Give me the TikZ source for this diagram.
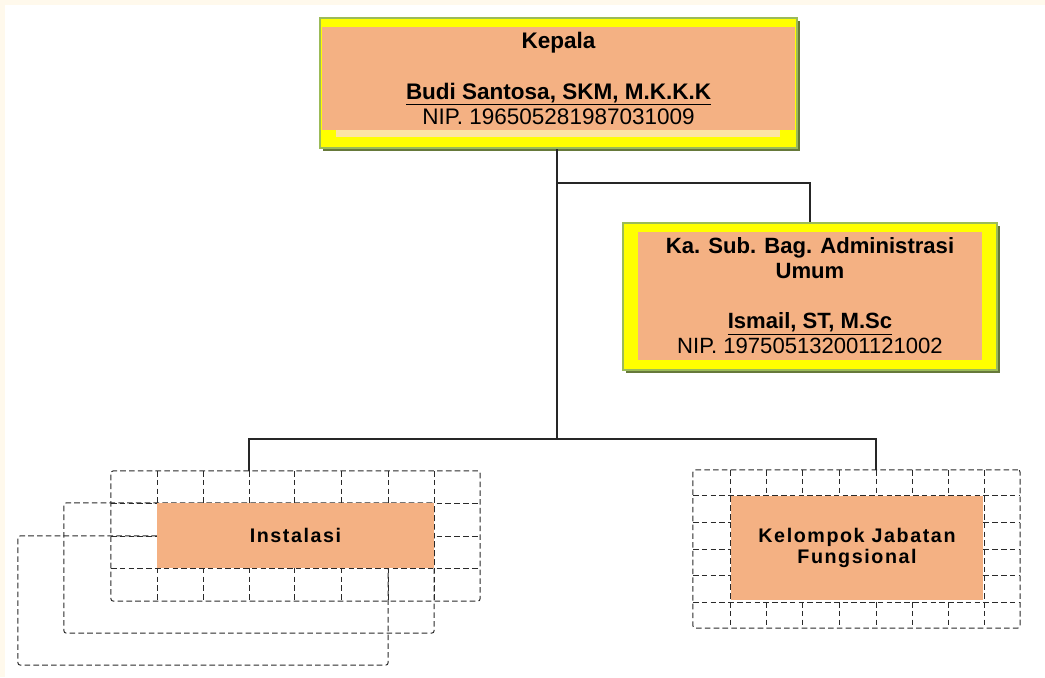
\documentclass[tikz,border=0pt]{standalone}
\usepackage{fontspec}
\setmainfont{Liberation Sans}
\newfontfamily\spacedfont[LetterSpace=8]{Liberation Sans}
\usepackage{xcolor}
\usepackage{tikz}
\usetikzlibrary{shadows}
\definecolor{unitF}{HTML}{F4B183}
\definecolor{frameY}{HTML}{FFFF00}
\definecolor{frameG}{HTML}{9BBB59}
\definecolor{shadeG}{HTML}{66793A}
\definecolor{stripY}{HTML}{FCE4A4}
\definecolor{paper}{HTML}{FFF9EC}
\definecolor{dashK}{HTML}{2A2A2A}

\begin{document}
\begin{tikzpicture}[
  x=0.025cm, y=-0.025cm,
  every node/.style={align=center},
  unitbox/.style={rectangle,draw=frameG,line width=1.5pt,fill=frameY,inner sep=0pt,
                  drop shadow={shadow xshift=0.07cm,shadow yshift=-0.07cm,
                               fill=shadeG,opacity=1}},
  unitfill/.style={rectangle,fill=unitF,inner sep=0pt,
                   font=\fontsize{15.7}{17.8}\selectfont},
  cardbox/.style={rectangle,draw=dashK,line width=0.7pt,rounded corners=1.5pt,
                  dash pattern=on 0.14cm off 0.08cm,inner sep=0pt},
  gridln/.style={draw=dashK,line width=0.7pt,dash pattern=on 0.14cm off 0.08cm},
  workfill/.style={rectangle,fill=unitF,inner sep=0pt,
                   font=\spacedfont\bfseries\fontsize{14}{15}\selectfont},
  conn/.style={draw=black!85,line width=0.8pt}
]
\useasboundingbox (0,0) rectangle (1045,677);
\fill[paper] (0,0) rectangle (1045,677);
\fill[white] (5,5) rectangle (1045,677);

% kepala
\node[unitbox,minimum width=11.925cm,minimum height=3.25cm] (kepBox) at (558.5,83) {};
\node[rectangle,fill=stripY,inner sep=0pt,minimum width=11.1cm,minimum height=0.175cm]
  (kepStrip) at (558,133.5) {};
\node[unitfill,font=\fontsize{16}{17.8}\selectfont,minimum width=11.825cm,
      minimum height=2.575cm] (kepFill) at (558.5,78.5)
  {\textbf{Kepala}\\[17.8pt]\underline{\textbf{Budi Santosa, SKM, M.K.K.K}}\\NIP. 196505281987031009};

% sub bagian
\node[unitbox,minimum width=9.35cm,minimum height=3.675cm] (subBox) at (810,296.5) {};
\node[unitfill,minimum width=8.6cm,minimum height=3.2cm] (subFill) at (810,296)
  {\textbf{Ka. Sub. Bag. Administrasi}\\\textbf{Umum}\\[17.8pt]\underline{\textbf{Ismail, ST, M.Sc}}\\NIP. 197505132001121002};

% instalasi cards
\node[cardbox,minimum width=9.25cm,minimum height=3.225cm] (instCardC) at (203,600.5) {};
\node[cardbox,minimum width=9.25cm,minimum height=3.25cm] (instCardB) at (249,568) {};
\node[cardbox,minimum width=9.225cm,minimum height=3.25cm] (instCard) at (295.5,536) {};
\foreach \gx in {157,203,249,294,341,388,434}
  \draw[gridln] (\gx,471) -- (\gx,601);
\foreach \gy in {503,536,568}
  \draw[gridln] (111,\gy) -- (480,\gy);
\node[workfill,minimum width=6.9cm,minimum height=1.625cm] (instFill) at (295.5,535.5) {Instalasi};

% kelompok jabatan fungsional
\node[cardbox,minimum width=8.175cm,minimum height=3.95cm] (kelCard) at (856.5,549) {};
\foreach \gx in {730,766,802,839,876,912,948,984}
  \draw[gridln] (\gx,470) -- (\gx,628);
\foreach \gy in {495,522,549,575,602}
  \draw[gridln] (693,\gy) -- (1020,\gy);
\node[workfill,minimum width=6.3cm,minimum height=2.6cm] (kelFill) at (857,548)
  {Kelompok Jabatan\\Fungsional};

% connectors
\coordinate (split) at (557,183);
\coordinate (hub) at (557,439);
\coordinate (instTop) at (249,471);
\coordinate (kelTop) at (876,470);
\draw[conn] (kepBox.south -| hub) -- (hub);
\draw[conn] (split) -| (subBox.north);
\draw[conn] (hub) -| (instTop);
\draw[conn] (hub) -| (kelTop);
\end{tikzpicture}
\end{document}
